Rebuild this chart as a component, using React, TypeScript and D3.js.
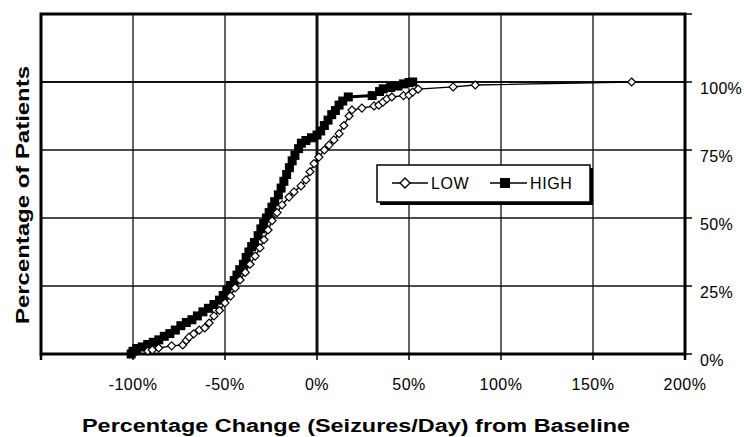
import React from "react";
import * as d3 from "d3";

// cumulative % of patients vs. % change in seizures/day
const lowSeries: [number, number][] = [
  [-92, 1.1], [-89.5, 1.5], [-86, 2.2], [-79, 3], [-73, 3.3], [-71, 5], [-69.5, 6.2],
  [-67, 7.4], [-64, 8.8], [-61, 9.6], [-58.6, 11.4], [-56, 14], [-53, 16], [-50, 18.8],
  [-47, 21.3], [-44.5, 24.3], [-41.8, 27.2], [-39, 30], [-36.4, 33], [-33.6, 36],
  [-31, 39], [-28.8, 42], [-26.6, 45.6], [-24.4, 49], [-21.7, 52], [-19, 54.8],
  [-15.2, 57.7], [-12.5, 59.6], [-8.7, 61.8], [-6, 64], [-3.8, 67], [-1.6, 70],
  [1, 72.4], [4, 75], [6.5, 76.8], [9.2, 78.7], [12, 81], [14.6, 84], [17.4, 87.5],
  [19, 89.7], [24.4, 90.4], [31, 91.2], [33.6, 91.5], [35.8, 92.6], [38, 93.8],
  [40.7, 94.5], [47, 95], [50, 95.2], [52, 96.3], [55, 97.4], [74, 98.2], [86, 98.9],
  [171, 100],
];

const highSeries: [number, number][] = [
  [-101, 0], [-100, 1], [-98, 2], [-95, 2.6], [-92, 3.5], [-89, 4.3], [-86, 5.2],
  [-83, 6.5], [-80, 7.5], [-77, 8.8], [-74, 10.4], [-71, 11.6], [-68, 12.6], [-65, 14],
  [-62, 15.5], [-59, 16.8], [-56, 18.2], [-53, 19.8], [-51, 21.5], [-49, 23.5],
  [-47, 25.2], [-45, 27], [-43.5, 29], [-42, 31], [-40, 33], [-38.5, 35.5], [-37, 37.5],
  [-35.5, 39.5], [-34, 41], [-32, 43.5], [-30.5, 46], [-29, 48], [-27.5, 50], [-26, 52],
  [-24.5, 54], [-23, 56], [-21, 58.5], [-19.5, 61], [-18, 63.5], [-16.5, 66], [-15, 68.5],
  [-13.5, 71], [-12, 73], [-10, 75.5], [-8.5, 77.5], [-6, 78.5], [-3, 79.5], [0, 80.5],
  [2, 82], [4, 84], [6, 86], [8, 88], [10, 89.5], [12, 91.5], [14, 93], [17, 94.5],
  [30, 95], [34, 96.5], [36, 97.5], [40, 98], [44, 98.5], [47, 99.3], [50, 99.8], [52, 100],
];

const xTicks = [-150, -100, -50, 0, 50, 100, 150, 200];
const yTicks = [0, 25, 50, 75, 100, 125];
const yLabels = [0, 25, 50, 75, 100];

const W = 744;
const H = 437;
const font = "'Liberation Sans', Arial, sans-serif";

const App = () => {
  const x = d3.scaleLinear().domain([-150, 200]).range([41, 685]);
  const y = d3.scaleLinear().domain([0, 125]).range([354, 14]);

  const line = d3
    .line<[number, number]>()
    .x(d => x(d[0]))
    .y(d => y(d[1]));

  const left = x(-150);
  const right = x(200);
  const top = y(125);
  const bottom = y(0);

  return (
    <svg
      width={W}
      height={H}
      style={{ position: "absolute", left: 0, top: 0, background: "#fff" }}
      fontFamily={font}
    >
      {/* grid */}
      {xTicks.slice(1, -1).map(t => (
        <line key={"gx" + t} x1={x(t)} x2={x(t)} y1={top} y2={bottom}
          stroke="#111" strokeWidth={t === 0 ? 3 : 1.3} />
      ))}
      {yTicks.slice(1, -1).map(t => (
        <line key={"gy" + t} x1={left} x2={right} y1={y(t)} y2={y(t)}
          stroke="#111" strokeWidth={t === 100 ? 2 : 1.5} />
      ))}

      {/* frame */}
      <rect x={left} y={top} width={right - left} height={bottom - top}
        fill="none" stroke="#000" strokeWidth={3} />

      {/* x ticks */}
      {xTicks.map(t => (
        <g key={"xt" + t}>
          <line x1={x(t)} x2={x(t)} y1={bottom} y2={bottom + 6} stroke="#000"
            strokeWidth={t === -150 || t === 200 ? 2.5 : 1.5} />
          {t > -150 && (
            <text x={x(t)} y={390} textAnchor="middle" fontSize={16} letterSpacing={0.5}>
              {t + "%"}
            </text>
          )}
        </g>
      ))}

      {/* y ticks on the right */}
      {yTicks.map(t => (
        <line key={"yt" + t} x1={right} x2={right + 7} y1={y(t)} y2={y(t)}
          stroke="#000" strokeWidth={1.5} />
      ))}
      {yLabels.map(t => (
        <text key={"yl" + t} x={700} y={y(t) + 12} fontSize={16} letterSpacing={0.3}>
          {t + "%"}
        </text>
      ))}

      {/* series */}
      <path d={line(lowSeries) || ""} fill="none" stroke="#000" strokeWidth={1.4} />
      <path d={line(highSeries) || ""} fill="none" stroke="#000" strokeWidth={3} />
      {highSeries.map((d, i) => (
        <rect key={"h" + i} x={x(d[0]) - 4.5} y={y(d[1]) - 4.5} width={9} height={9} fill="#000" />
      ))}
      {lowSeries.map((d, i) => (
        <path key={"l" + i}
          d={`M${x(d[0])},${y(d[1]) - 4}l4,4l-4,4l-4,-4z`}
          fill="#fff" stroke="#000" strokeWidth={1.2} />
      ))}

      {/* legend */}
      <rect x={380} y={168} width={213} height={37} fill="#000" />
      <rect x={377} y={165} width={213} height={37} fill="#fff" stroke="#000" strokeWidth={1.5} />
      <line x1={392} x2={428} y1={183} y2={183} stroke="#000" strokeWidth={1.4} />
      <path d="M405,178l5,5l-5,5l-5,-5z" fill="#fff" stroke="#000" strokeWidth={1.4} />
      <text x={431} y={189} fontSize={16} letterSpacing={0.6}>LOW</text>
      <line x1={490} x2={527} y1={183} y2={183} stroke="#000" strokeWidth={1.6} />
      <rect x={500} y={178} width={10} height={10} fill="#000" />
      <text x={530} y={189} fontSize={16} letterSpacing={0.6}>HIGH</text>

      {/* axis titles */}
      <text x={356} y={432} textAnchor="middle" fontSize={18} fontWeight="bold"
        textLength={548} lengthAdjust="spacingAndGlyphs">
        Percentage Change (Seizures/Day) from Baseline
      </text>
      <text transform="translate(29,195) rotate(-90)" textAnchor="middle" fontSize={18}
        fontWeight="bold" textLength={258} lengthAdjust="spacingAndGlyphs">
        Percentage of Patients
      </text>
    </svg>
  );
};

export default App;
